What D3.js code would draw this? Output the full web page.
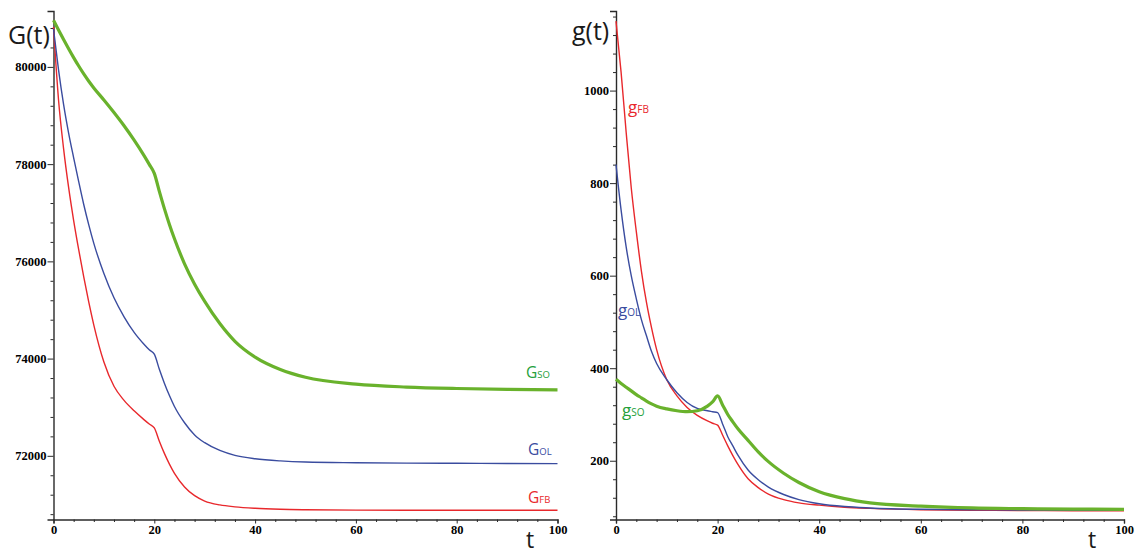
<!DOCTYPE html>
<html>
<head>
<meta charset="utf-8">
<script src="https://cdn.jsdelivr.net/npm/d3@7"></script>
<style>
  html, body { margin: 0; padding: 0; background: #ffffff; }
  svg { display: block; }
</style>
</head>
<body>
<svg id="chart" width="1136" height="556"></svg>
<script>
// ---------- data ----------
const tValues = [0,1,2,3,4,5,6,7,8,10,12,14,16,18,19,20,21,22,23,24,26,28,30,33,36,40,45,50,60,70,80,90,100];

// Left panel: G(t)
const G_FB = [80820,79320,78320,77520,76840,76240,75680,75160,74690,73930,73430,73140,72925,72740,72655,72575,72300,72050,71830,71640,71360,71180,71070,70990,70950,70920,70900,70890,70882,70880,70880,70880,70880];
const G_OL = [80780,79940,79230,78640,78130,77640,77170,76750,76370,75750,75250,74860,74540,74290,74180,74090,73780,73495,73240,73015,72680,72430,72270,72110,72010,71940,71895,71872,71858,71850,71846,71843,71840];
const G_SO = [80961,80761,80565,80375,80192,80018,79855,79705,79568,79320,79062,78790,78494,78170,77995,77810,77440,77085,76760,76465,75950,75530,75175,74720,74355,74030,73775,73615,73475,73415,73385,73368,73358];

// Right panel: g(t)
const g_FB = [1150,1040,910,790,695,610,542,487,440,375,340,315,298,286,281,277,255,232,211,192,161,142,128,116,109,104,99.5,97,94,93,92.5,92,92];
const g_OL = [840,742,662,600,550,505,470,436,410,375,347,326,313,308,306,304,279,252,232,212,180,159,143,127,116,107,101,98,95,94,93.5,93,93];
const g_SO = [376,367,359,351,343,336,329,323,318,312,308,306,308,318,327,340,320,300,284,269,244,219,198,173,153,133,118,109,102,98,96.5,95.5,95];

const leftTicksMajor = [72000, 74000, 76000, 78000, 80000];
const rightTicksMajor = [200, 400, 600, 800, 1000];
const xTicksMajor = [0, 20, 40, 60, 80, 100];

const leftTitle = "G(t)";
const rightTitle = "g(t)";
const xTitle = "t";

// ---------- styles ----------
const COL = {
  red: "#e8282c", blue: "#3a4c9f", green: "#69b22c",
  redLab: "#e8282c", blueLab: "#3a4c9f", greenLab: "#24a03a",
  axis: "#2a2a2a", text: "#1a1a1a"
};

const svg = d3.select("#chart");

function panel(opts) {
  const g = svg.append("g");
  const x = d3.scaleLinear().domain([0, 100]).range(opts.xRange);
  const y = d3.scaleLinear().domain(opts.yDomain).range([519.5, 11]);

  // minor ticks y
  g.append("g")
    .attr("transform", `translate(${opts.xRange[0]},0)`)
    .call(d3.axisLeft(y).tickValues(opts.yMinor).tickSize(3).tickFormat(""))
    .call(a => a.select(".domain").remove())
    .call(a => a.selectAll("line").attr("stroke", COL.axis).attr("stroke-width", 1));
  // major ticks y
  g.append("g")
    .attr("transform", `translate(${opts.xRange[0]},0)`)
    .call(d3.axisLeft(y).tickValues(opts.yMajor).tickSize(6).tickPadding(1).tickFormat(d3.format("d")))
    .call(a => a.select(".domain").attr("stroke", COL.axis).attr("stroke-width", 1.4))
    .call(a => a.selectAll("line").attr("stroke", COL.axis).attr("stroke-width", 1))
    .call(a => a.selectAll("text")
      .attr("font-family", "'Liberation Serif', 'Times New Roman', serif")
      .attr("font-weight", "bold").attr("font-size", 12.5).attr("fill", "#000"));

  // x minor
  const xMinor = d3.range(0, 101, 4).filter(v => v % 20 !== 0);
  g.append("g")
    .attr("transform", `translate(0,519.5)`)
    .call(d3.axisBottom(x).tickValues(xMinor).tickSize(2.5).tickFormat(""))
    .call(a => a.select(".domain").remove())
    .call(a => a.selectAll("line").attr("stroke", COL.axis).attr("stroke-width", 1));
  g.append("g")
    .attr("transform", `translate(0,519.5)`)
    .call(d3.axisBottom(x).tickValues(xTicksMajor).tickSize(4).tickPadding(2).tickFormat(d3.format("d")))
    .call(a => a.select(".domain").attr("stroke", COL.axis).attr("stroke-width", 1.4))
    .call(a => a.selectAll("line").attr("stroke", COL.axis).attr("stroke-width", 1))
    .call(a => a.selectAll("text")
      .attr("font-family", "'Liberation Serif', 'Times New Roman', serif")
      .attr("font-weight", "bold").attr("font-size", 12.5).attr("fill", "#000"));

  const line = d3.line()
    .x((d, i) => x(tValues[i]))
    .y(d => y(d))
    .curve(d3.curveMonotoneX);

  opts.series.forEach(s => {
    g.append("path")
      .datum(s.values)
      .attr("d", line)
      .attr("fill", "none")
      .attr("stroke", s.color)
      .attr("stroke-width", s.width)
      .attr("stroke-linejoin", "round");
  });

  // series labels
  opts.labels.forEach(l => {
    const t = g.append("text")
      .attr("x", l.x).attr("y", l.y)
      .attr("font-family", "'Open Sans', 'Noto Sans', sans-serif")
      .attr("fill", l.color);
    t.append("tspan").attr("font-size", l.big).text(l.main);
    t.append("tspan").attr("font-size", l.small).text(l.sub);
  });

  // axis titles
  g.append("text")
    .attr("x", opts.titlePos[0]).attr("y", opts.titlePos[1])
    .attr("font-family", "'Open Sans', 'Noto Sans', sans-serif")
    .attr("font-size", 25).attr("fill", COL.text)
    .text(opts.title);
  g.append("text")
    .attr("x", opts.tPos[0]).attr("y", opts.tPos[1])
    .attr("font-family", "'Open Sans', 'Noto Sans', sans-serif")
    .attr("font-size", 23).attr("fill", COL.text)
    .text(xTitle);
}

panel({
  xRange: [53.5, 557.5],
  yDomain: [70690, 81150],
  yMajor: leftTicksMajor,
  yMinor: d3.range(70800, 81001, 400).filter(v => v % 2000 !== 0),
  series: [
    { values: G_FB, color: COL.red, width: 1.4 },
    { values: G_OL, color: COL.blue, width: 1.4 },
    { values: G_SO, color: COL.green, width: 3.2 }
  ],
  labels: [
    { x: 526, y: 378, main: "G", sub: "SO", color: COL.greenLab, big: 15.5, small: 9.5 },
    { x: 528, y: 455, main: "G", sub: "OL", color: COL.blueLab, big: 15.5, small: 9.5 },
    { x: 528, y: 503, main: "G", sub: "FB", color: COL.redLab, big: 15.5, small: 9.5 }
  ],
  title: leftTitle,
  titlePos: [8, 44],
  tPos: [526, 548]
});

panel({
  xRange: [616, 1124],
  yDomain: [73, 1172],
  yMajor: rightTicksMajor,
  yMinor: d3.range(80, 1161, 40).filter(v => v % 200 !== 0),
  series: [
    { values: g_FB, color: COL.red, width: 1.4 },
    { values: g_OL, color: COL.blue, width: 1.4 },
    { values: g_SO, color: COL.green, width: 3.2 }
  ],
  labels: [
    { x: 628, y: 113, main: "g", sub: "FB", color: COL.redLab, big: 17, small: 10 },
    { x: 618, y: 316, main: "g", sub: "OL", color: COL.blueLab, big: 17, small: 10 },
    { x: 622, y: 416, main: "g", sub: "SO", color: COL.greenLab, big: 17, small: 10 }
  ],
  title: rightTitle,
  titlePos: [572, 40],
  tPos: [1088, 548]
});
</script>
</body>
</html>
